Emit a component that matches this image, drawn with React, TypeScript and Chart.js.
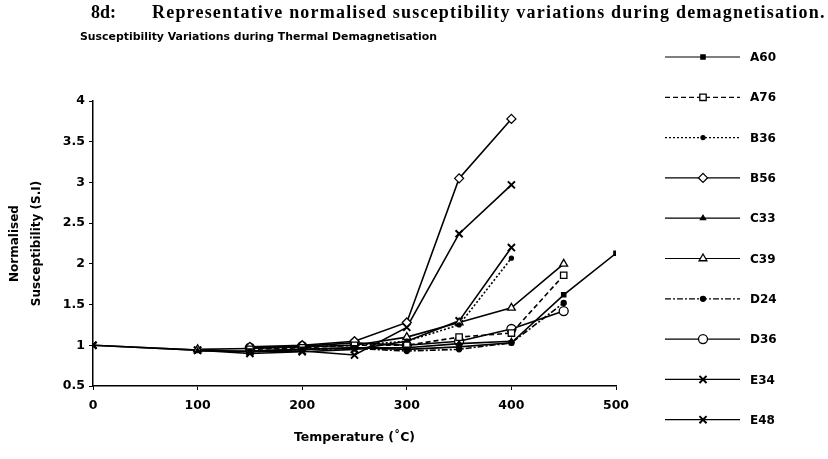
import React, { useEffect, useRef } from 'react';
import { Chart, registerables } from 'chart.js';
import { drawPoint } from 'chart.js/helpers';

Chart.register(...registerables);

// ---- data ----
const TEMPS = [0, 100, 150, 200, 250, 300, 350, 400, 450, 500];
const SERIES_NAMES = ['A60', 'A76', 'B36', 'B56', 'C33', 'C39', 'D24', 'D36', 'E34', 'E48'];
const A60 = [null, null, 0.93, 0.95, 0.97, 0.95, 0.98, 1.03, 1.62, 2.13];
const A76 = [null, null, 0.95, 0.97, 1.0, 1.0, 1.1, 1.15, 1.86, null];
const B36 = [null, null, 0.96, 0.98, 1.0, 1.05, 1.25, 2.07, null, null];
const B56 = [null, null, 0.98, 1.0, 1.05, 1.28, 3.05, 3.78, null, null];
const C33 = [null, 0.93, 0.93, 0.95, 0.97, 0.97, 1.02, 1.05, null, null];
const C39 = [null, 0.95, 0.96, 0.98, 1.0, 1.1, 1.28, 1.46, 2.0, null];
const D24 = [null, null, 0.92, 0.95, 0.96, 0.93, 0.95, 1.03, 1.52, null];
const D36 = [null, null, 0.97, 0.99, 1.03, 1.0, 1.05, 1.2, 1.42, null];
const E34 = [1.0, 0.94, 0.92, 0.93, 0.88, 1.22, 2.37, 2.97, null, null];
const E48 = [1.0, 0.94, 0.9, 0.92, 0.95, 1.05, 1.3, 2.2, null, null];
const SERIES_VALUES = [A60, A76, B36, B56, C33, C39, D24, D36, E34, E48];
const X_MIN = 0, X_MAX = 500, X_STEP = 100;
const Y_MIN = 0.5, Y_MAX = 4, Y_STEP = 0.5;

// ---- styles ----
const STYLES = [
  { pointStyle: 'rect', radius: 3, fill: '#000', dash: [] },
  { pointStyle: 'rect', radius: 4.5, fill: '#fff', dash: [5, 3] },
  { pointStyle: 'circle', radius: 2, fill: '#000', dash: [2, 2] },
  { pointStyle: 'rectRot', radius: 4.5, fill: '#fff', dash: [] },
  { pointStyle: 'triangle', radius: 3, fill: '#000', dash: [] },
  { pointStyle: 'triangle', radius: 4.5, fill: '#fff', dash: [] },
  { pointStyle: 'circle', radius: 2.5, fill: '#000', dash: [6, 2, 2, 2] },
  { pointStyle: 'circle', radius: 4.5, fill: '#fff', dash: [] },
  { pointStyle: 'crossRot', radius: 5, fill: '#000', dash: [] },
  { pointStyle: 'crossRot', radius: 5, fill: '#000', dash: [] },
];

const FONT = '"DejaVu Sans", Verdana, sans-serif';

const legendPlugin = {
  id: 'sideLegend',
  afterDraw(chart: any) {
    const ctx = chart.ctx;
    chart.data.datasets.forEach((ds: any, i: number) => {
      const y = 57 + i * 40.3;
      ctx.save();
      ctx.strokeStyle = '#000';
      ctx.lineWidth = 1.2;
      ctx.setLineDash(ds.borderDash || []);
      ctx.beginPath();
      ctx.moveTo(665, y);
      ctx.lineTo(740, y);
      ctx.stroke();
      ctx.setLineDash([]);
      ctx.fillStyle = ds.pointBackgroundColor;
      ctx.strokeStyle = '#000';
      ctx.lineWidth = ds.pointBorderWidth;
      drawPoint(ctx, { pointStyle: ds.pointStyle, rotation: 0, radius: ds.pointRadius, borderWidth: ds.pointBorderWidth } as any, 703, y);
      ctx.fillStyle = '#000';
      ctx.font = 'bold 12px ' + FONT;
      ctx.textBaseline = 'middle';
      ctx.textAlign = 'left';
      ctx.fillText(ds.label, 750, y + 1);
      ctx.restore();
    });
  },
};

export default function App() {
  const ref = useRef<HTMLCanvasElement>(null);
  useEffect(() => {
    if (!ref.current) return;
    const datasets = SERIES_NAMES.map((name, i) => {
      const st = STYLES[i];
      const data = TEMPS.map((t, j) => ({ x: t, y: SERIES_VALUES[i][j] })).filter((p) => p.y !== null);
      return {
        label: name,
        data,
        borderColor: '#000',
        borderWidth: 1.6,
        borderDash: st.dash,
        pointStyle: st.pointStyle,
        pointRadius: st.radius,
        pointBackgroundColor: st.fill,
        pointBorderColor: '#000',
        pointBorderWidth: st.pointStyle === 'crossRot' ? 2 : 1.3,
        tension: 0,
        fill: false,
      };
    });
    const tickFont = { family: FONT, size: 12.5, weight: 'bold' };
    const chart = new Chart(ref.current, {
      type: 'line',
      data: { datasets },
      plugins: [legendPlugin],
      options: {
        animation: false,
        responsive: false,
        maintainAspectRatio: false,
        layout: { padding: { top: 101, right: 212, left: 0, bottom: 0 } },
        plugins: { legend: { display: false }, tooltip: { enabled: false }, title: { display: false } },
        scales: {
          x: {
            type: 'linear',
            min: X_MIN,
            max: X_MAX,
            ticks: { stepSize: X_STEP, color: '#000', font: tickFont, padding: 8, maxRotation: 0, callback: (v: any) => String(v) },
            grid: { display: true, drawOnChartArea: false, drawTicks: true, tickLength: 4, color: '#000' },
            border: { display: true, color: '#000', width: 1.5 },
            title: { display: true, text: 'Temperature (˚C)', color: '#000', font: { family: FONT, size: 12.5, weight: 'bold' }, padding: { top: 0, bottom: 14 } },
            afterFit: (s: any) => { s.height = 73; },
          },
          y: {
            type: 'linear',
            min: Y_MIN,
            max: Y_MAX,
            ticks: { stepSize: Y_STEP, color: '#000', font: tickFont, padding: 4, callback: (v: any) => String(v) },
            grid: { display: true, drawOnChartArea: false, drawTicks: true, tickLength: 4, color: '#000' },
            border: { display: true, color: '#000', width: 1.5 },
            title: { display: true, text: ['Normalised', 'Susceptibility (S.I)'], color: '#000', font: { family: FONT, size: 12, weight: 'bold', lineHeight: 1.8 }, padding: { top: 4, bottom: 0 } },
            afterFit: (s: any) => { s.width = 93; },
          },
        },
      } as any,
    });
    return () => chart.destroy();
  }, []);

  return (
    <div style={{ position: 'absolute', left: 0, top: 0, width: 828, height: 459, background: '#fff', overflow: 'hidden' }}>
      <canvas ref={ref} width={828} height={459} style={{ position: 'absolute', left: 0, top: 0, width: 828, height: 459 }} />
      <div style={{ position: 'absolute', left: 91, top: 2, font: 'bold 18px "Liberation Serif", serif', color: '#000', whiteSpace: 'nowrap' }}>8d:</div>
      <div style={{ position: 'absolute', left: 152, top: 2, font: 'bold 18px "Liberation Serif", serif', color: '#000', whiteSpace: 'nowrap', letterSpacing: '1.2px' }}>
        Representative normalised susceptibility variations during demagnetisation.
      </div>
      <div style={{ position: 'absolute', left: 80, top: 30, font: 'bold 10.9px ' + FONT, color: '#000', whiteSpace: 'nowrap' }}>
        Susceptibility Variations during Thermal Demagnetisation
      </div>
    </div>
  );
}
